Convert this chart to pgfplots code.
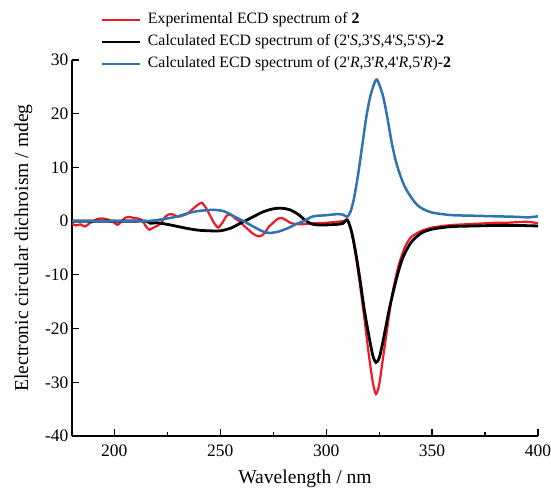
\documentclass[border=0pt]{standalone}
\usepackage{fontspec}
\setmainfont{Liberation Serif}
\usepackage{pgfplots}
\pgfplotsset{compat=1.18}
\definecolor{expred}{HTML}{ED1C24}
\definecolor{calcblue}{HTML}{2E73B4}
\newcommand{\p}{\textquotesingle}

\begin{document}
\begin{tikzpicture}
\begin{axis}[
    scale only axis,
    width=466pt, height=376pt,
    xmin=180, xmax=400, ymin=-40, ymax=30,
    xtick={200,250,...,400}, ytick={-40,-30,...,30},
    minor x tick num=1,
    axis lines=left,
    axis line style={-, line width=1.2pt},
    tick style={line width=1.2pt, black},
    tick align=inside,
    major tick length=7pt, minor tick length=3.5pt,
    /pgf/number format/assume math mode=true,
    tick label style={font=\fontsize{17.5}{20}\selectfont},
    xticklabel style={yshift=-5pt},
    label style={font=\fontsize{19.6}{23}\selectfont},
    xlabel={Wavelength / nm},
    ylabel={Electronic circular dichroism / mdeg},
    xlabel style={yshift=-7pt},
    ylabel style={yshift=6pt},
    legend cell align=left,
    legend image code/.code={\draw[#1] (0pt,0pt) -- (38pt,0pt);},
    legend style={at={(axis description cs:0.06,1.13)}, anchor=north west,
        draw=none, fill=none, inner sep=0pt, row sep=4.5pt,
        font=\fontsize{15.8}{19}\selectfont,
        nodes={inner sep=1pt, text height=11.5pt, text depth=4pt},
        /tikz/every odd column/.append style={column sep=6pt}},
]
% experimental ECD
\addplot[color=expred, line width=2.2pt, smooth, tension=0.4] coordinates {
(180,-0.5)(182,-0.8)(184,-0.6)(186,-1.0)(188,-0.5)(190,0.0)(192,0.4)(194,0.5)
(196,0.4)(198,0.1)(200,-0.3)(201.5,-0.7)(203,-0.2)(205,0.6)(207,0.8)(209,0.6)
(211,0.5)(213,0.2)(215,-1.0)(216.5,-1.6)(218,-1.3)(220,-0.9)(222,-0.4)(224,0.8)
(226,1.3)(228,1.2)(230,0.8)(232,1.0)(234,1.3)(236,1.9)(238,2.6)(240,3.2)
(241.5,3.4)(243,2.6)(245,1.2)(247,-0.3)(249,-1.2)(251,-0.3)(253,1.0)(255,1.2)
(257,0.5)(259,0.0)(261,-0.8)(263,-1.5)(265,-2.2)(267,-2.7)(269,-2.8)(271,-2.2)
(273,-1.0)(275,-0.3)(277,0.4)(279,0.6)(281,0.2)(283,-0.3)(285,-0.5)(288,-0.6)
(291,-0.5)(294,-0.4)(297,-0.4)(300,-0.3)(303,-0.2)(306,-0.1)(309,0.1)(310,0.3)
(312,-2)(314,-6.5)(316,-12)(318,-18)(320,-24.5)(322,-30)(323.5,-32.2)(325,-30.5)
(327,-25)(329,-19.5)(331,-14)(334,-8.5)(337,-5)(340,-3)(345,-1.8)(350,-1.2)
(355,-0.9)(360,-0.7)(365,-0.6)(370,-0.5)(375,-0.4)(380,-0.3)(385,-0.3)(390,-0.2)
(395,-0.1)(400,-0.4)};
\addlegendentry{Experimental ECD spectrum of \textbf{2}}
% calculated (2'S,3'S,4'S,5'S)
\addplot[color=black, line width=2.8pt, smooth, tension=0.5] coordinates {
(180,0)(190,0)(200,0)(210,0)(215,0)(217,-0.4)(220,-0.3)(225,-0.6)(230,-1.0)
(235,-1.4)(240,-1.7)(245,-1.8)(250,-1.8)(255,-1.3)(258,-0.7)(262,0.1)(266,0.9)
(270,1.7)(275,2.3)(279,2.4)(283,2.1)(287,1.2)(290,0.2)(293,-0.5)(296,-0.7)
(300,-0.7)(305,-0.6)(308,-0.4)(310,0.2)(312,-2)(314,-6)(316,-11)(318,-16.5)
(320,-21)(322,-25)(323.5,-26.3)(325,-25.5)(326.5,-23)(328,-20)(330,-16)
(333,-11)(336,-7)(340,-4)(345,-2.2)(350,-1.5)(355,-1.2)(360,-1.0)(370,-0.9)
(380,-0.8)(390,-0.8)(400,-0.9)};
\addlegendentry{Calculated ECD spectrum of (2\p\textit{S},3\p\textit{S},4\p\textit{S},5\p\textit{S})-\textbf{2}}
% calculated (2'R,3'R,4'R,5'R)
\addplot[color=calcblue, line width=2.5pt, smooth, tension=0.5] coordinates {
(180,0)(190,0)(200,0)(210,0.05)(215,0)(220,0.2)(225,0.5)(230,0.9)(235,1.5)
(240,1.9)(247,2.1)(252,1.8)(256,1.0)(261,0)(266,-1.1)(270,-1.9)(273,-2.2)
(277,-2.0)(282,-1.3)(286,-0.5)(290,0.1)(293,0.8)(296,1.0)(300,1.1)(305,1.3)
(308,1.2)(310,0.8)(311.5,1.8)(313,4)(315,8.5)(317,14)(319,19.5)(321,23.5)
(323.5,26.3)(325,25.5)(327,23)(329,19)(331,14.5)(333,11)(335,8.5)(337,6.5)
(340,4.5)(343,3)(346,2.2)(350,1.6)(355,1.3)(360,1.1)(370,1.0)(380,0.9)
(390,0.8)(395,0.7)(400,0.9)};
\addlegendentry{Calculated ECD spectrum of (2\p\textit{R},3\p\textit{R},4\p\textit{R},5\p\textit{R})-\textbf{2}}
\coordinate (ll) at (rel axis cs:0,0);
\coordinate (ur) at (rel axis cs:1,1);
\end{axis}
\pgfresetboundingbox
\path[use as bounding box] ([shift={(-72pt,-51pt)}]ll) rectangle ([shift={(13pt,60pt)}]ur);
\end{tikzpicture}
\end{document}
